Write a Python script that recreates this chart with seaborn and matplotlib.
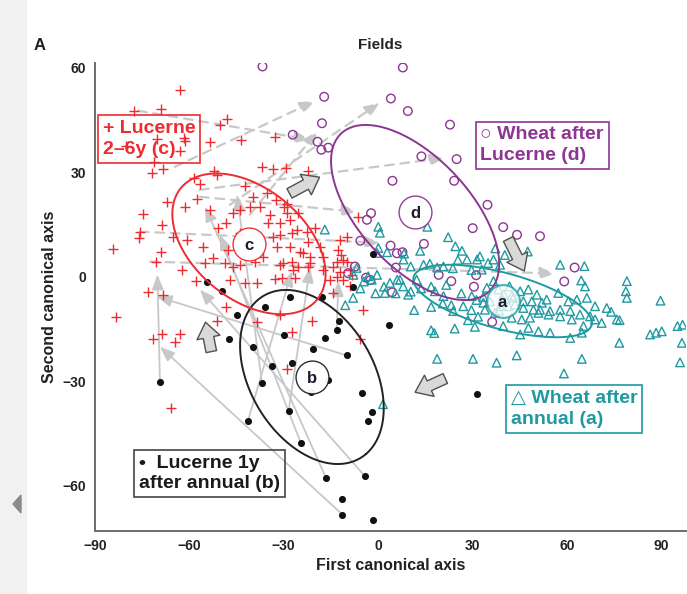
import numpy as np
import matplotlib
matplotlib.use("Agg")
import matplotlib.pyplot as plt
from matplotlib.patches import FancyArrowPatch, Rectangle, Polygon
import pandas as pd
import seaborn as sns

# ---------------- data (canonical scores per field) ----------------
# Lucerne 2-6 y (c)
lucerne_26_x = [-63.0, -77.6, -69.0, -48.0, -50.3, -61.7, -61.4, -70.3, -53.4, -43.6, -32.8, -63.0,
                -80.1, -71.2, -71.9, -68.4, -36.9, -33.4, -29.3, -52.2, -58.5, -51.2, -56.6, -42.3,
                -35.3, -39.8, -32.4, -28.9, -57.6, -67.1, -40.7, -61.4, -22.3, -74.7, -75.7, -76.0,
                -84.3, -68.7, -69.0, -70.6, -65.2, -53.4, -48.3, -46.1, -50.9, -43.9, -37.5, -34.4,
                -29.9, -28.0, -25.8, -31.2, -22.3, -22.6, -18.4, -27.4, -31.2, -32.1, -28.0, -23.9,
                -17.5, -36.6, -47.7, -48.7, -46.1, -55.7, -55.0, -60.8, -62.3, -27.0, -21.6, -12.1,
                -12.7, -9.9, -11.1, -30.2, -57.9, -73.2, -68.4, -83.3, -71.6, -68.7, -63.0, -64.6,
                -51.2, -48.3, -38.5, -47.1, -42.3, -38.5, -52.5, -43.9, -35.0, -28.9, -25.4, -33.4,
                -31.2, -32.8, -30.5, -39.1, -43.9, -31.2, -27.4, -25.4, -26.4, -65.8, -28.9, -5.7,
                -4.8, -21.0, -6.4, -20.0, -11.8, -13.0, -9.9, -12.1, -8.3, -11.1, -14.3, -17.5,
                -15.3, -8.9, -14.3, -24.8, -21.6, -27.4, -22.3, -8.9, -13.0]
lucerne_26_y = [53.6, 47.6, 48.1, 45.3, 43.5, 39.8, 39.0, 39.5, 38.7, 39.3, 40.1, 36.1,
                37.5, 32.9, 29.8, 30.9, 31.5, 30.9, 31.2, 30.4, 28.4, 29.2, 26.6, 26.1,
                24.1, 22.9, 22.1, 20.9, 22.3, 21.5, 20.1, 20.1, 30.4, 18.0, 12.9, 11.2,
                8.0, 14.9, 7.2, 4.3, 11.5, 19.2, 15.5, 18.3, 14.0, 12.6, 20.1, 17.8,
                20.1, 16.3, 13.5, 15.5, 10.0, 12.9, 8.6, 12.6, 12.0, 8.6, 8.6, 6.9,
                5.7, 5.7, 7.7, 4.0, 2.9, 8.6, 4.0, 10.6, 2.0, 2.0, 4.0, 10.6,
                7.7, 11.5, 4.9, 4.0, -1.4, -4.3, -5.2, -11.5, -18.0, -16.6, -16.6, -18.9,
                -12.6, -8.6, -12.9, -0.9, -1.7, -1.7, 5.2, 19.2, 15.5, 18.3, 18.3, 11.5,
                3.4, -0.6, -0.3, 4.3, 3.4, -10.9, -16.0, 2.9, -0.3, -37.8, -26.6, -18.0,
                -9.5, -12.6, 17.2, 14.0, 6.3, 4.3, 4.3, 1.4, 0.6, -0.9, 2.9, 2.0,
                -0.9, -2.6, -4.6, 7.2, 5.7, 4.3, 2.9, 2.0, 0.0]

# Lucerne 1 y after annual (b)
lucerne_1_x = [-54.5, -49.6, -44.9, -35.9, -28.0, -17.7, -47.4, -39.7, -29.8, -20.7, -16.8, -13.1,
               -12.3, 3.5, -10.0, -27.3, -33.8, -69.2, -36.9, -16.0, -21.3, -5.0, -28.4, -2.0,
               -3.2, -41.3, -24.5, -16.5, -4.1, -11.4, -11.5, -1.5, -1.7, -7.8, 31.6]
lucerne_1_y = [-1.5, -4.0, -11.1, -8.7, -5.9, -5.9, -17.9, -20.3, -16.7, -20.7, -17.6, -15.2,
               -12.6, -14.0, -22.6, -24.7, -25.7, -30.2, -30.4, -29.8, -33.2, -33.3, -38.6, -38.9,
               -41.3, -41.3, -47.8, -57.8, -57.3, -63.7, -68.4, -69.9, 6.6, -3.0, -33.8]

# Wheat after Lucerne (d)
wheat_luc_x = [-36.7, 7.9, -17.1, 4.1, 9.5, 22.9, -17.8, -27.1, -19.2, -18.0, -15.8, 13.8,
               25.0, 4.6, 24.2, 34.8, 39.8, 30.1, 44.2, 51.5, -2.2, -3.5, -5.6, 4.0,
               14.6, 6.0, 7.8, 5.7, 62.5, -7.3, -3.8, -2.4, 19.3, 23.3, 31.2, 30.5,
               4.5, 36.3, 59.2, -9.5]
wheat_luc_y = [60.3, 60.0, 51.6, 51.1, 47.5, 43.6, 44.0, 40.7, 38.7, 36.4, 37.0, 34.5,
               33.7, 27.5, 27.5, 20.6, 14.2, 13.9, 12.0, 11.6, 18.2, 16.3, 10.3, 8.9,
               9.4, 6.7, 7.0, 2.6, 2.6, 2.9, -0.3, -1.0, 0.5, -1.3, 0.4, -2.9,
               -4.5, -13.0, -1.4, 1.0]

# Wheat after annual (a)
wheat_ann_x = [-16.9, 0.1, 0.6, 15.7, 22.3, 13.4, 24.6, 26.7, 28.3, 31.5, 32.4, 8.1,
               14.5, 16.5, 18.8, 20.8, 0.1, 37.3, 40.3, 36.7, 38.8, 33.0, 47.6, 57.9,
               65.6, 64.6, 65.8, 79.1, 78.8, 79.1, 89.8, -0.3, 2.9, 8.3, 10.4, 23.8,
               35.0, 29.7, 25.4, -0.3, 1.9, 6.1, 10.4, 5.6, 13.7, 16.9, 21.7, 26.5,
               31.3, 33.5, 29.7, 31.8, 28.6, 23.3, 20.6, 16.9, 11.5, 16.9, 17.9, 24.4,
               30.8, -10.4, -5.6, -4.5, -7.8, -0.8, -6.8, -3.1, -2.0, 3.8, 7.0, 8.0,
               9.6, 12.3, 18.1, 20.8, 23.9, 27.1, 29.8, 33.5, -7.9, 2.2, 36.7, 34.6,
               35.6, 38.3, 41.8, 45.2, 47.8, 50.5, 53.6, 52.1, 48.9, 46.2, 49.4, 51.5,
               54.7, 57.9, 60.5, 63.2, 66.4, 69.0, 72.7, 61.1, 64.2, 67.4, 69.0, 61.6,
               57.9, 54.2, 51.0, 48.3, 45.7, 47.8, 51.0, 54.7, 45.2, 61.1, 64.8, 65.3,
               71.1, 75.9, 57.3, 42.5, 39.8, 37.2, 34.0, 38.8, 43.0, 46.2, 86.5, 88.4,
               90.2, 95.2, 96.8, 76.7, 96.6, 96.0, 64.8, 44.1, 37.7, 18.8, 30.2, 59.1,
               76.8, 74.1, 1.6, 40.0, 41.5, 38.5, 42.5, 39.5, 43.5]
wheat_ann_y = [13.5, 14.3, 12.6, 14.3, 11.3, 7.4, 8.7, 7.4, 4.9, 4.9, 5.8, 4.9,
               3.4, 3.7, 2.6, 2.9, 8.2, 8.1, 6.2, 4.9, 3.4, 2.0, 7.2, 3.4,
               3.0, -1.1, -2.8, -1.3, -4.2, -6.1, -6.9, 6.8, 7.0, 6.6, 2.9, 2.4,
               3.9, 1.9, 4.8, 0.5, -2.9, -0.9, -4.3, -4.8, -3.4, -2.9, -2.4, -4.8,
               -6.7, -5.8, -9.6, -11.5, -12.5, -8.2, -7.7, -8.7, -9.6, -15.4, -16.2, -14.9,
               -14.4, -8.2, -3.4, -1.4, 0.5, -4.8, 2.5, 0.1, -0.9, -1.8, -0.9, -2.8,
               -5.2, -0.9, -4.2, -5.6, -9.9, -8.5, -5.6, -7.5, -6.1, -4.7, -1.3, -3.2,
               -7.1, -3.7, -2.8, -4.2, -3.7, -5.2, -6.6, -7.5, -7.1, -7.1, -9.5, -9.5,
               -9.9, -9.5, -7.1, -6.6, -6.1, -8.5, -9.0, -9.9, -10.9, -11.4, -12.3, -12.3,
               -11.4, -10.9, -10.4, -11.8, -12.3, -14.7, -15.7, -16.1, -16.6, -17.6, -16.1, -14.2,
               -13.3, -12.3, -4.7, -11.8, -14.2, -10.4, -9.5, -8.5, -6.1, -9.0, -16.6, -16.1,
               -15.7, -14.2, -13.8, -19.0, -19.0, -24.6, -23.6, -22.6, -24.7, -23.6, -23.6, -27.8,
               -12.5, -10.1, -36.6, -5.0, -8.5, -9.8, -5.5, -6.5, -8.0]

# group centroids and 95% ellipses (semi-axes, rotation in degrees)
group_labels = ["a", "b", "c", "d"]
centroid_x = [39.6, -21.0, -41.0, 11.8]
centroid_y = [-7.0, -28.8, 9.4, 18.4]
ellipse_a = [29.1, 28.0, 27.0, 32.7]
ellipse_b = [8.1, 19.0, 16.5, 16.6]
ellipse_angle = [-13.5, -52.0, -33.0, -42.0]

# field trajectories: Lucerne 1y -> Lucerne 2-6y (solid)
traj1_from_x = [-69.3, -11.4, -10.0, -4.1, -41.3, -28.4, -13.1, -16.5, -24.5, -36.9]
traj1_from_y = [-30.1, -68.2, -22.6, -57.3, -41.3, -38.6, -15.2, -57.8, -47.8, -30.4]
traj1_to_x = [-70.1, -69.3, -70.3, -56.6, -27.4, -21.6, -12.6, -55.0, -50.2, -44.8]
traj1_to_y = [0.6, -20.1, -5.7, -3.7, 1.5, 2.6, -1.3, 20.1, 12.0, 23.5]
# Lucerne 2-6y -> Wheat after Lucerne (dashed)
traj2_from_x = [-76.3, -64.6, -47.1, -40.7, -56.6, -56.6, -75.7, -72.5]
traj2_from_y = [47.6, 31.5, 20.6, 17.8, 24.9, 22.9, 12.9, 4.3]
traj2_to_x = [-21.6, -20.0, 0.6, -19.1, 21.3, -6.7, 0.6, 56.3]
traj2_to_y = [39.3, 50.4, 49.9, 41.8, 34.1, 18.6, 9.7, 0.9]

# rotation sequence (block arrows): c -> d -> a -> b -> c
seq_from_x = [-28.9, 41.0, 22.2, -52.8]
seq_from_y = [23.5, 11.5, -28.9, -22.3]
seq_to_x = [-17.8, 46.9, 11.0, -55.0]
seq_to_y = [28.9, 0.9, -33.5, -12.3]

RED = "#ee2b2f"
PURPLE = "#8d3593"
TEAL = "#1f9aa0"
BLACK = "#111111"
ARROW_GREY = "#c8c8c8"

sns.set_style("white")
plt.rcParams["font.family"] = ["Liberation Sans Narrow", "Liberation Sans", "DejaVu Sans"]

fig = plt.figure(figsize=(6.87, 5.94), dpi=100)
ax = fig.add_axes([0.138, 0.106, 0.861, 0.788])

# trajectory arrows
for x0, y0, x1, y1 in zip(traj1_from_x, traj1_from_y, traj1_to_x, traj1_to_y):
    ax.annotate("", xy=(x1, y1), xytext=(x0, y0),
                arrowprops=dict(arrowstyle="-|>,head_length=0.9,head_width=0.35",
                                color=ARROW_GREY, lw=1.3, shrinkA=0, shrinkB=0,
                                mutation_scale=10), zorder=1)
for x0, y0, x1, y1 in zip(traj2_from_x, traj2_from_y, traj2_to_x, traj2_to_y):
    ax.annotate("", xy=(x1, y1), xytext=(x0, y0),
                arrowprops=dict(arrowstyle="-|>,head_length=0.9,head_width=0.35",
                                color=ARROW_GREY, lw=1.6, ls=(0, (4, 3)), shrinkA=0, shrinkB=0,
                                mutation_scale=10), zorder=1)

# points
sns.scatterplot(x=lucerne_26_x, y=lucerne_26_y, marker="+", s=45, color=RED,
                linewidth=1.0, ax=ax, zorder=3)
sns.scatterplot(x=wheat_luc_x, y=wheat_luc_y, marker="o", s=38, facecolor="none",
                edgecolor=PURPLE, linewidth=1.0, ax=ax, zorder=3)
sns.scatterplot(x=wheat_ann_x, y=wheat_ann_y, marker="^", s=38, facecolor="none",
                edgecolor=TEAL, linewidth=1.0, ax=ax, zorder=3)
sns.scatterplot(x=lucerne_1_x, y=lucerne_1_y, marker="o", s=26, color=BLACK,
                edgecolor=BLACK, linewidth=0, ax=ax, zorder=3)

# ellipses
group_colors = [TEAL, "#222222", RED, PURPLE]
t = np.linspace(0, 2 * np.pi, 300)
for cx, cy, ea, eb, ang, col in zip(centroid_x, centroid_y, ellipse_a, ellipse_b,
                                     ellipse_angle, group_colors):
    th = np.deg2rad(ang)
    ex = cx + ea * np.cos(t) * np.cos(th) - eb * np.sin(t) * np.sin(th)
    ey = cy + ea * np.cos(t) * np.sin(th) + eb * np.sin(t) * np.cos(th)
    ax.plot(ex, ey, color=col, lw=1.4, zorder=4)

# centroid markers with group letters
for lab, cx, cy, col in zip(group_labels, centroid_x, centroid_y, group_colors):
    ax.scatter([cx], [cy], s=560, facecolor="white", edgecolor=col,
               linewidth=1.0 if lab != "a" else 1.6, zorder=5,
               alpha=0.95 if lab != "a" else 0.75)
    ax.text(cx, cy - 0.4, lab, ha="center", va="center", fontsize=12,
            fontweight="bold", color="#1b1b2e", zorder=6)

# rotation block arrows
for x0, y0, x1, y1 in zip(seq_from_x, seq_from_y, seq_to_x, seq_to_y):
    ax.add_patch(FancyArrowPatch((x0, y0), (x1, y1),
                                 arrowstyle="simple,head_length=0.8,head_width=1.2,tail_width=0.55",
                                 mutation_scale=14, fc="#d9d9d9", ec="#505050", lw=1.0,
                                 zorder=6))

# group boxes
box_kw = dict(transform=ax.transAxes, fontsize=14, fontweight="bold", va="center",
              ha="left", linespacing=1.3, zorder=7)
ax.text(0.0135, 0.837, "+ Lucerne\n2\u20136y (c)", color=RED,
        bbox=dict(boxstyle="square,pad=0.25", fc="none", ec=RED, lw=1.2), **box_kw)
ax.text(0.652, 0.824, "\u25cb Wheat after\nLucerne (d)", color=PURPLE,
        bbox=dict(boxstyle="square,pad=0.25", fc="none", ec=PURPLE, lw=1.2), **box_kw)
ax.text(0.703, 0.261, "\u25b3 Wheat after\nannual (a)", color=TEAL,
        bbox=dict(boxstyle="square,pad=0.25", fc="none", ec=TEAL, lw=1.2), **box_kw)
ax.text(0.074, 0.123, "\u2022  Lucerne 1y\nafter annual (b)", color="#1a1a1a",
        bbox=dict(boxstyle="square,pad=0.25", fc="none", ec="#444444", lw=1.2), **box_kw)

# axes styling
ax.set_xlim(-90, 98)
ax.set_ylim(-73, 61.3)
ax.set_xticks([-90, -60, -30, 0, 30, 60, 90])
ax.set_yticks([-60, -30, 0, 30, 60])
ax.set_xticklabels(["\u221290", "\u221260", "\u221230", "0", "30", "60", "90"])
ax.set_yticklabels(["\u221260", "\u221230", "0", "30", "60"])
for lab in ax.get_xticklabels() + ax.get_yticklabels():
    lab.set_fontweight("bold")
    lab.set_fontsize(10)
ax.tick_params(direction="in", length=4, width=1, color="#666666", labelcolor="#222222",
               pad=6)
for side in ["top", "right"]:
    ax.spines[side].set_visible(False)
for side in ["left", "bottom"]:
    ax.spines[side].set_color("#6b6b6b")
    ax.spines[side].set_linewidth(1.4)
ax.set_xlabel("First canonical axis", fontsize=11.5, fontweight="bold", color="#222222",
              labelpad=3)
ax.set_ylabel("Second canonical axis", fontsize=11.5, fontweight="bold", color="#222222",
              labelpad=4)

fig.text(0.553, 0.924, "Fields", ha="center", va="center", fontsize=11, fontweight="bold",
         color="#222222")
fig.text(0.058, 0.924, "A", ha="center", va="center", fontsize=12, fontweight="bold",
         color="#222222")

# side strip with page handle
fig.patches.append(Rectangle((0, 0), 26 / 687, 1, transform=fig.transFigure,
                             color="#f1f1f1", zorder=0))
fig.patches.append(Polygon([[13 / 687, 1 - 504 / 594], [21 / 687, 1 - 495 / 594],
                            [21 / 687, 1 - 513 / 594]], closed=True,
                           transform=fig.transFigure, color="#8a8a8a", zorder=1))

fig.savefig("out.png", dpi=100)
